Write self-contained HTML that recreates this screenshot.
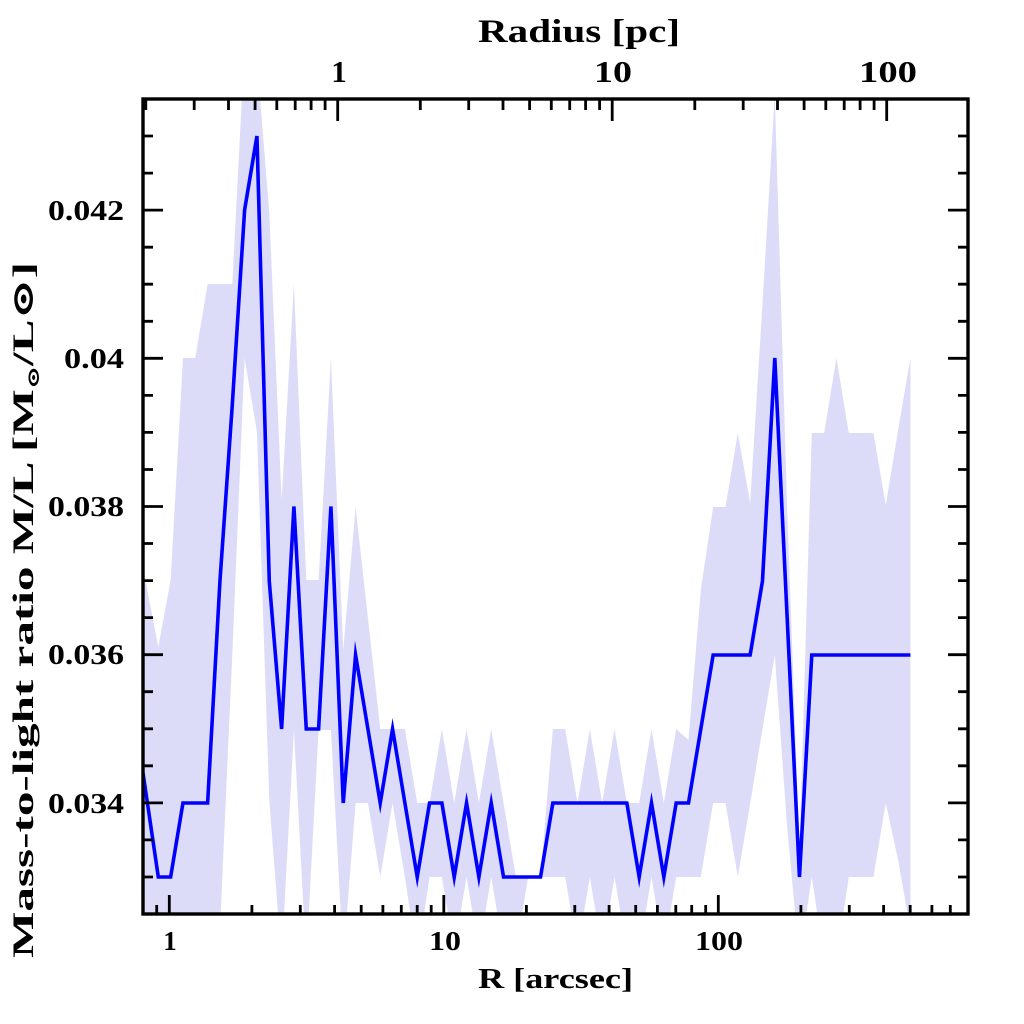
<!DOCTYPE html>
<html>
<head>
<meta charset="utf-8">
<style>
  html,body{margin:0;padding:0;background:#fff;width:1024px;height:1024px;overflow:hidden;}
  svg{display:block;}
  text{font-family:"Liberation Serif","DejaVu Serif",serif;font-weight:bold;fill:#000;}
</style>
</head>
<body>
<svg width="1024" height="1024" viewBox="0 0 1024 1024" xmlns="http://www.w3.org/2000/svg">
  <defs>
    <clipPath id="plot">
      <rect x="143" y="99" width="825" height="815"/>
    </clipPath>
  </defs>
  <rect x="0" y="0" width="1024" height="1024" fill="#fff"/>

  <!-- error band -->
  <g clip-path="url(#plot)">
    <polygon fill="#dcdcf9" points="
140,583 145.97,583 158.3,647 170.63,580 182.96,358 195.29,358 207.62,284 219.95,284 232.28,284 244.61,45 256.94,60 269.27,212 281.6,500 293.93,284 306.26,580 318.59,580 330.92,358 343.25,650 355.58,507 367.91,618 380.24,729 392.57,729 404.9,729 417.23,803 429.56,803 441.89,729 454.22,803 466.55,729 478.88,803 491.21,729 503.54,803 515.87,877 528.2,877 540.53,877 552.86,729 565.19,729 577.52,803 589.85,729 602.18,803 614.51,729 626.84,803 639.17,803 651.5,729 663.83,803 676.16,729 688.49,740 700.82,590 713.15,507 725.48,507 737.81,433 750.14,503 762.47,304 774.8,95 787.13,507 799.46,850 811.79,433 824.12,433 836.45,358 848.78,433 861.11,433 873.44,433 885.77,505 898.1,430 910.43,358
910.43,930 898.1,860 885.77,803 873.44,877 861.11,877 848.78,877 836.45,960 824.12,960 811.79,877 799.46,960 787.13,827 774.8,655 762.47,729 750.14,804 737.81,877 725.48,803 713.15,803 700.82,877 688.49,877 676.16,877 663.83,951 651.5,877 639.17,951 626.84,951 614.51,877 602.18,951 589.85,877 577.52,951 565.19,877 552.86,877 540.53,877 528.2,877 515.87,951 503.54,951 491.21,877 478.88,951 466.55,877 454.22,951 441.89,877 429.56,877 417.23,960 404.9,877 392.57,803 380.24,877 367.91,803 355.58,803 343.25,960 330.92,730 318.59,730 306.26,960 293.93,730 281.6,960 269.27,800 256.94,432 244.61,358 232.28,655 219.95,930 207.62,960 145.97,960 140,960"/>

    <!-- data line -->
    <polyline fill="none" stroke="#0000ff" stroke-width="3.6" stroke-linejoin="miter" stroke-miterlimit="10" points="
143,773 158.3,877 170.63,877 182.96,803 195.29,803 207.62,803 219.95,581 232.28,405 244.61,210 256.94,136 269.27,581 281.6,729 293.93,506.5 306.26,729 318.59,729 330.92,506.5 343.25,803 355.58,655 367.91,729 380.24,803 392.57,729 404.9,803 417.23,877 429.56,803 441.89,803 454.22,877 466.55,803 478.88,877 491.21,803 503.54,877 515.87,877 528.2,877 540.53,877 552.86,803 565.19,803 577.52,803 589.85,803 602.18,803 614.51,803 626.84,803 639.17,877 651.5,803 663.83,877 676.16,803 688.49,803 700.82,729 713.15,655 725.48,655 737.81,655 750.14,655 762.47,581 774.8,358 787.13,617 799.46,877 811.79,655 824.12,655 836.45,655 848.78,655 861.11,655 873.44,655 885.77,655 898.1,655 910.43,655"/>
  </g>

  <!-- ticks -->
  <g stroke="#000" stroke-width="2.8" fill="none">
    <path d="
M143,877H153 M143,839.9H153 M143,802.9H163 M143,765.8H153 M143,728.8H153 M143,691.7H153
M143,654.7H163 M143,617.6H153 M143,580.6H153 M143,543.5H153 M143,506.5H163 M143,469.5H153
M143,432.4H153 M143,395.4H153 M143,358.3H163 M143,321.3H153 M143,284.2H153 M143,247.2H153
M143,210.1H163 M143,173.1H153 M143,136H153"/>
    <path d="
M968,877H958 M968,839.9H958 M968,802.9H948 M968,765.8H958 M968,728.8H958 M968,691.7H958
M968,654.7H948 M968,617.6H958 M968,580.6H958 M968,543.5H958 M968,506.5H948 M968,469.5H958
M968,432.4H958 M968,395.4H958 M968,358.3H948 M968,321.3H958 M968,284.2H958 M968,247.2H958
M968,210.1H948 M968,173.1H958 M968,136H958"/>
    <path d="
M156.7,914V905 M169.3,914V895 M251.9,914V905 M300.3,914V905 M334.6,914V905 M361.2,914V905
M382.9,914V905 M401.3,914V905 M417.2,914V905 M431.2,914V905 M443.8,914V895
M526.4,914V905 M574.8,914V905 M609.1,914V905 M635.7,914V905 M657.4,914V905 M675.8,914V905
M691.7,914V905 M705.7,914V905 M718.3,914V895
M800.9,914V905 M849.3,914V905 M883.6,914V905 M910.2,914V905 M931.9,914V905 M950.3,914V905"/>
    <path d="
M145.8,99V110 M194.2,99V110 M228.5,99V110 M255.1,99V110 M276.8,99V110 M295.2,99V110
M311.1,99V110 M325.1,99V110 M337.7,99V121
M420.3,99V110 M468.7,99V110 M503,99V110 M529.6,99V110 M551.3,99V110 M569.7,99V110
M585.6,99V110 M599.6,99V110 M612.2,99V121
M694.8,99V110 M743.2,99V110 M777.5,99V110 M804.1,99V110 M825.8,99V110 M844.2,99V110
M860.1,99V110 M874.1,99V110 M886.7,99V121"/>
  </g>

  <!-- frame -->
  <rect x="143" y="99" width="825" height="815" fill="none" stroke="#000" stroke-width="3.4"/>

  <!-- y tick labels -->
  <g font-size="29" text-anchor="end">
    <text x="124" y="220" textLength="76" lengthAdjust="spacingAndGlyphs">0.042</text>
    <text x="124" y="368" textLength="60" lengthAdjust="spacingAndGlyphs">0.04</text>
    <text x="124" y="516" textLength="76" lengthAdjust="spacingAndGlyphs">0.038</text>
    <text x="124" y="664" textLength="76" lengthAdjust="spacingAndGlyphs">0.036</text>
    <text x="124" y="813" textLength="76" lengthAdjust="spacingAndGlyphs">0.034</text>
  </g>

  <!-- bottom tick labels -->
  <g font-size="27" text-anchor="middle">
    <text x="170" y="950">1</text>
    <text x="445" y="950" textLength="32" lengthAdjust="spacingAndGlyphs">10</text>
    <text x="719" y="950" textLength="48" lengthAdjust="spacingAndGlyphs">100</text>
  </g>

  <!-- top tick labels -->
  <g font-size="31" text-anchor="middle">
    <text x="339" y="82">1</text>
    <text x="613" y="82" textLength="38" lengthAdjust="spacingAndGlyphs">10</text>
    <text x="888" y="82" textLength="58" lengthAdjust="spacingAndGlyphs">100</text>
  </g>

  <!-- axis titles -->
  <text x="478" y="42" font-size="33" textLength="202" lengthAdjust="spacingAndGlyphs">Radius [pc]</text>
  <text x="478" y="988" font-size="29" textLength="155" lengthAdjust="spacingAndGlyphs">R [arcsec]</text>
  <text transform="translate(33,610) rotate(-90)" text-anchor="middle" font-size="30" textLength="696" lengthAdjust="spacingAndGlyphs">Mass-to-light ratio M/L [M<tspan font-size="17" dy="6">⊙</tspan><tspan dy="-6">/L⊙]</tspan></text>
</svg>
</body>
</html>
